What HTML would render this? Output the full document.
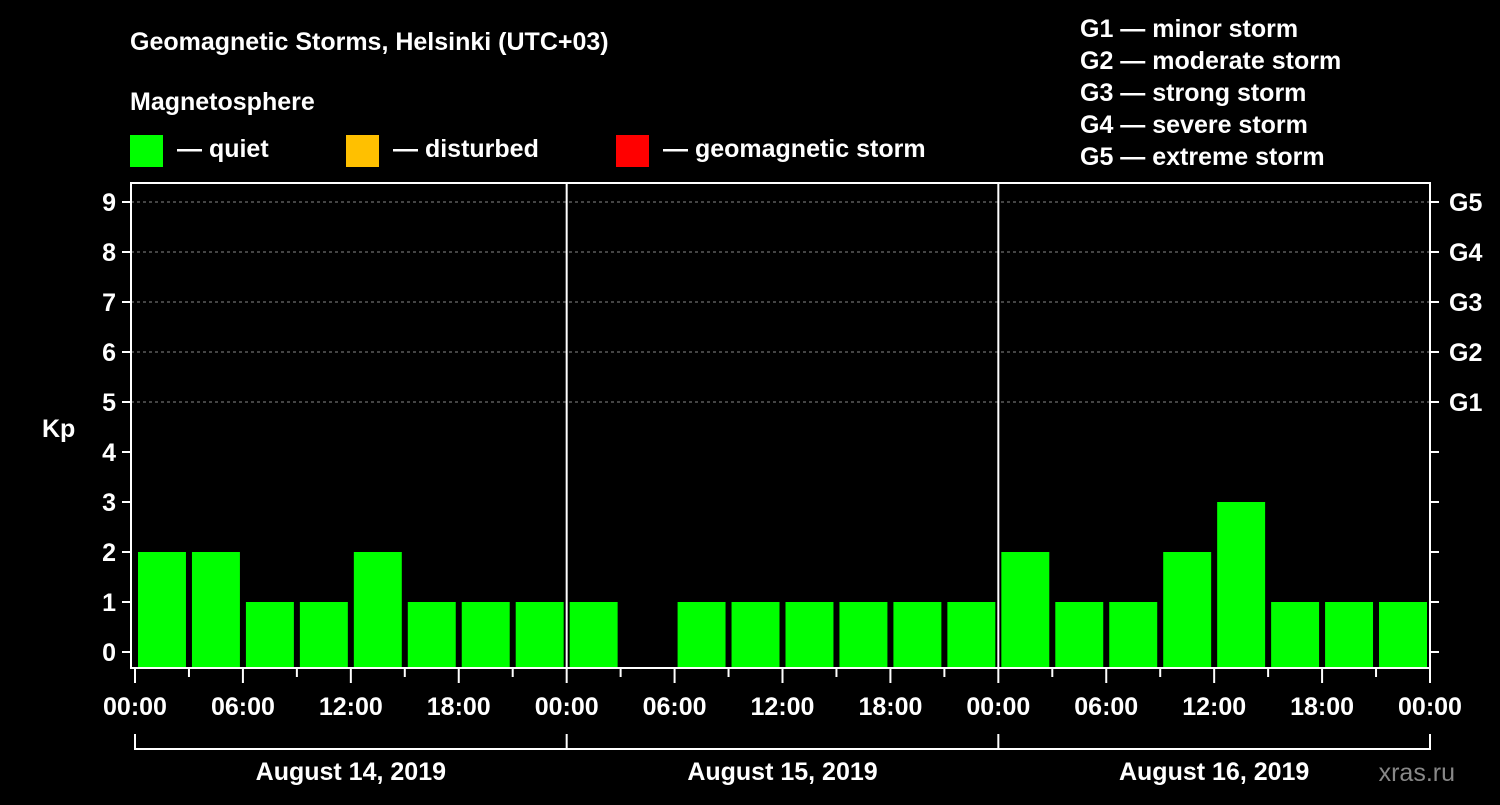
<!DOCTYPE html>
<html><head><meta charset="utf-8"><style>
body{margin:0;background:#000;}
svg text{font-family:"Liberation Sans",Arial,sans-serif;font-weight:bold;fill:#fff;}
</style></head><body>
<svg id="c" width="1500" height="800" viewBox="0 0 1500 800">
<rect width="1500" height="800" fill="#000"/>
<text x="130" y="50" font-size="25">Geomagnetic Storms, Helsinki (UTC+03)</text>
<text x="130" y="110" font-size="25">Magnetosphere</text>
<g><rect x="130" y="135" width="33" height="32" fill="#00ff00"/><text x="177" y="157" font-size="25">— quiet</text></g>
<g><rect x="346" y="135" width="33" height="32" fill="#ffc000"/><text x="393" y="157" font-size="25">— disturbed</text></g>
<g><rect x="616" y="135" width="33" height="32" fill="#ff0000"/><text x="663" y="157" font-size="25">— geomagnetic storm</text></g>
<g font-size="25">
<text x="1080" y="37">G1 — minor storm</text>
<text x="1080" y="69">G2 — moderate storm</text>
<text x="1080" y="101">G3 — strong storm</text>
<text x="1080" y="133">G4 — severe storm</text>
<text x="1080" y="165">G5 — extreme storm</text>
</g>
<text x="42" y="437" font-size="25">Kp</text>
<text x="1455" y="781" font-size="25" text-anchor="end" fill="#888" style="fill:#888;font-weight:normal">xras.ru</text>
<g id="plot"></g>
</svg>
<script>
const kpValues=[2,2,1,1,2,1,1,1, 1,0,1,1,1,1,1,1, 2,1,1,2,3,1,1,1];
const dayLabels=["August 14, 2019","August 15, 2019","August 16, 2019"];
const hourLabels=["00:00","06:00","12:00","18:00"];
const gLabels=["G1","G2","G3","G4","G5"];
const yTicks=[0,1,2,3,4,5,6,7,8,9];
const NS="http://www.w3.org/2000/svg";
const L=135,R=1430,T=183,B=668;
const x=i=>L+(R-L)*i/24; // i in 3h slots
const y=v=>652-50*v;
const g=document.getElementById('plot');
function mk(t,a,p){const e=document.createElementNS(NS,t);for(const k in a)e.setAttribute(k,a[k]);(p||g).appendChild(e);return e;}
// grid
for(let v=5;v<=9;v++){const l=mk('line',{x1:131,x2:R,y1:y(v),y2:y(v),stroke:'#888','stroke-dasharray':'3,3','stroke-width':1});

}
// bars
kpValues.forEach((v,i)=>{if(v<=0)return;const w=(R-L)/24;
const r=mk('rect',{x:x(i)+3,y:y(v),width:w-6,height:B-y(v),fill:v>=5?'#ff0000':v>=4?'#ffc000':'#00ff00'});

});
// frame
mk('rect',{x:131,y:T,width:R-131,height:B-T,fill:'none',stroke:'#fff','stroke-width':2});
for(let d=1;d<3;d++){const l=mk('line',{x1:x(d*8),x2:x(d*8),y1:T,y2:B,stroke:'#fff','stroke-width':2});

}
// y ticks
yTicks.forEach(v=>{mk('line',{x1:122,x2:131,y1:y(v),y2:y(v),stroke:'#fff','stroke-width':2});
mk('line',{x1:R,x2:R+9,y1:y(v),y2:y(v),stroke:'#fff','stroke-width':2});
const t=mk('text',{x:116,y:y(v)+9,'font-size':25,'text-anchor':'end'});t.textContent=v;

});
gLabels.forEach((s,i)=>{const t=mk('text',{x:1449,y:y(5+i)+9,'font-size':25});t.textContent=s;

});
// x ticks
for(let i=0;i<=24;i++){const major=i%2==0;mk('line',{x1:x(i),x2:x(i),y1:B,y2:B+(major?15:9),stroke:'#fff','stroke-width':2});
if(major){const t=mk('text',{x:x(i),y:715,'font-size':25,'text-anchor':'middle'});t.textContent=hourLabels[(i/2)%4];

}}
// day brackets
mk('line',{x1:L,x2:R,y1:749,y2:749,stroke:'#fff','stroke-width':2});
for(let d=0;d<=3;d++)mk('line',{x1:x(d*8),x2:x(d*8),y1:734,y2:750,stroke:'#fff','stroke-width':2});
dayLabels.forEach((s,d)=>{const t=mk('text',{x:(x(d*8)+x(d*8+8))/2,y:780,'font-size':25,'text-anchor':'middle'});t.textContent=s;

});
</script>
</body></html>
